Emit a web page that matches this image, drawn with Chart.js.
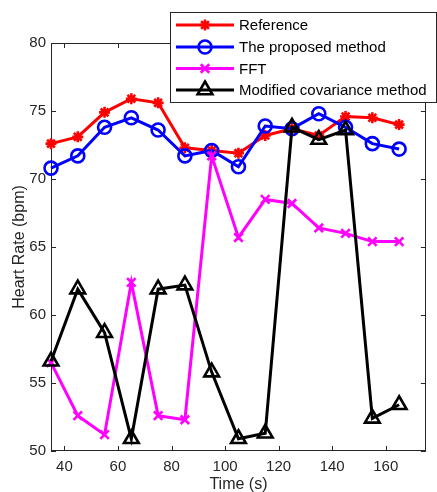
<!DOCTYPE html>
<html>
<head>
<meta charset="utf-8">
<script src="https://cdn.jsdelivr.net/npm/chart.js@4.4.0/dist/chart.umd.min.js"></script>
<style>
  html, body { margin: 0; padding: 0; background: #fff; }
  #wrap { width: 437px; height: 492px; position: relative; }
</style>
</head>
<body>
<div id="wrap"><canvas id="hrChart"></canvas></div>
<script>
// time points (s)
const times = [35, 45, 55, 65, 75, 85, 95, 105, 115, 125, 135, 145, 155, 165];

// heart rate (bpm) per method
const reference = [72.6, 73.1, 74.9, 75.9, 75.6, 72.3, 72.1, 71.9, 73.2, 73.7, 73.2, 74.6, 74.5, 74.0];
const proposed  = [70.8, 71.7, 73.8, 74.5, 73.6, 71.7, 72.1, 70.9, 73.9, 73.7, 74.8, 73.8, 72.6, 72.2];
const fft       = [56.5, 52.6, 51.2, 62.4, 52.6, 52.3, 71.7, 65.7, 68.5, 68.2, 66.4, 66.0, 65.4, 65.4];
const modCov    = [56.6, 61.9, 58.7, 50.9, 61.9, 62.2, 55.8, 50.9, 51.3, 73.8, 72.9, 73.6, 52.4, 53.4];

const xTicks = [40, 60, 80, 100, 120, 140, 160];
const yTicks = [50, 55, 60, 65, 70, 75, 80];

const AXIS_COLOR = '#262626';
const FONT = 'Liberation Sans, Arial, Helvetica, sans-serif';

function pairs(vals) {
    return vals.map((v, i) => ({ x: times[i], y: v }));
}

const datasets = [
    { label: 'Reference', data: pairs(reference), borderColor: '#ff0000', backgroundColor: '#ff0000',
      pointStyle: 'star', pointRadius: 5.5, order: 4 },
    { label: 'The proposed method', data: pairs(proposed), borderColor: '#0000ff', backgroundColor: 'rgba(0,0,0,0)',
      pointStyle: 'circle', pointRadius: 6.5, order: 3 },
    { label: 'FFT', data: pairs(fft), borderColor: '#ff00ff', backgroundColor: '#ff00ff',
      pointStyle: 'crossRot', pointRadius: 6, order: 2 },
    { label: 'Modified covariance method', data: pairs(modCov), borderColor: '#000000', backgroundColor: 'rgba(0,0,0,0)',
      pointStyle: 'triangle', pointRadius: 8.5, order: 1 }
].map(d => Object.assign(d, {
    borderWidth: 3,
    pointBorderWidth: 2.6,
    pointBackgroundColor: d.backgroundColor,
    pointBorderColor: d.borderColor,
    tension: 0,
    clip: false
}));

// MATLAB-style box with inward ticks
const axesBox = {
    id: 'axesBox',
    beforeDatasetsDraw(chart) {
        const { ctx, chartArea: a, scales: { x, y } } = chart;
        ctx.save();
        ctx.strokeStyle = AXIS_COLOR;
        ctx.lineWidth = 1;
        ctx.strokeRect(Math.round(a.left) + 0.5, Math.round(a.top) + 0.5,
                       Math.round(a.width) - 1, Math.round(a.height) - 1);
        ctx.beginPath();
        x.ticks.forEach(t => {
            const px = Math.round(x.getPixelForValue(t.value)) + 0.5;
            ctx.moveTo(px, a.bottom); ctx.lineTo(px, a.bottom - 5);
            ctx.moveTo(px, a.top); ctx.lineTo(px, a.top + 5);
        });
        y.ticks.forEach(t => {
            const py = Math.round(y.getPixelForValue(t.value)) + 0.5;
            ctx.moveTo(a.left, py); ctx.lineTo(a.left + 5, py);
            ctx.moveTo(a.right, py); ctx.lineTo(a.right - 5, py);
        });
        ctx.stroke();
        ctx.restore();
    }
};

// boxed legend in the top right corner, drawn over everything
const boxLegend = {
    id: 'boxLegend',
    afterDraw(chart) {
        const { ctx } = chart;
        const bx = 170.5, by = 12.5, bw = 266, bh = 90;
        const rows = [25, 47, 68.5, 90];
        ctx.save();
        ctx.fillStyle = '#ffffff';
        ctx.fillRect(bx, by, bw, bh);
        ctx.strokeStyle = AXIS_COLOR;
        ctx.lineWidth = 1;
        ctx.strokeRect(bx, by, bw, bh);
        chart.data.datasets.forEach((ds, i) => {
            const ry = rows[i];
            ctx.strokeStyle = ds.borderColor;
            ctx.lineWidth = ds.borderWidth;
            ctx.beginPath();
            ctx.moveTo(176, ry);
            ctx.lineTo(234, ry);
            ctx.stroke();
            ctx.fillStyle = ds.backgroundColor;
            ctx.lineWidth = ds.pointBorderWidth;
            Chart.helpers.drawPoint(ctx, {
                pointStyle: ds.pointStyle,
                radius: ds.pointRadius,
                rotation: 0,
                borderWidth: ds.pointBorderWidth
            }, 205, ry);
            ctx.fillStyle = '#000000';
            ctx.font = '15px ' + FONT;
            ctx.textAlign = 'left';
            ctx.textBaseline = 'middle';
            ctx.fillText(ds.label, 239, ry + 1);
        });
        ctx.restore();
    }
};

new Chart(document.getElementById('hrChart'), {
    type: 'line',
    data: { datasets: datasets },
    plugins: [axesBox, boxLegend],
    options: {
        responsive: true,
        maintainAspectRatio: false,
        animation: false,
        layout: { padding: { top: 43, right: 8, left: 0, bottom: 0 } },
        scales: {
            x: {
                type: 'linear',
                min: 35,
                max: 175,
                afterFit: s => { s.height = 41; },
                afterBuildTicks: s => { s.ticks = xTicks.map(v => ({ value: v })); },
                grid: { display: false, drawTicks: false },
                border: { display: false },
                ticks: { color: AXIS_COLOR, font: { family: FONT, size: 15 }, padding: 7, maxRotation: 0 },
                title: { display: true, text: 'Time (s)', color: AXIS_COLOR,
                         font: { family: FONT, size: 16 }, padding: { top: 0, bottom: -2 } }
            },
            y: {
                min: 50,
                max: 80,
                afterFit: s => { s.width = 51; },
                afterBuildTicks: s => { s.ticks = yTicks.map(v => ({ value: v })); },
                grid: { display: false, drawTicks: false },
                border: { display: false },
                ticks: { color: AXIS_COLOR, font: { family: FONT, size: 15 }, padding: 5 },
                title: { display: true, text: 'Heart Rate (bpm)', color: AXIS_COLOR,
                         font: { family: FONT, size: 16 }, padding: { top: 10, bottom: 0 } }
            }
        },
        plugins: {
            legend: { display: false },
            tooltip: { enabled: false }
        }
    }
});
</script>
</body>
</html>
